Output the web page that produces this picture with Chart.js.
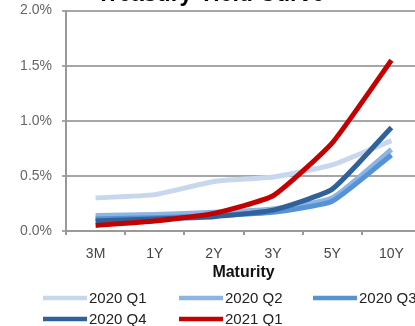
<!DOCTYPE html>
<html>
<head>
<meta charset="utf-8">
<script src="https://cdn.jsdelivr.net/npm/chart.js@4/dist/chart.umd.min.js"></script>
<style>
  html, body { margin: 0; padding: 0; background: #fff; overflow: hidden; width: 415px; height: 326px; }
  #wrap { position: absolute; left: 0; top: -28px; width: 425px; height: 354px; }
</style>
</head>
<body>
<div id="wrap"><canvas id="c" width="425" height="354"></canvas></div>
<script>
// Treasury yields (%) by maturity, quarterly snapshots
const maturities = ['3M', '1Y', '2Y', '3Y', '5Y', '10Y'];
const seriesNames = ['2020 Q1', '2020 Q2', '2020 Q3', '2020 Q4', '2021 Q1'];
const y2020Q1 = [0.30, 0.33, 0.45, 0.49, 0.60, 0.82];
const y2020Q2 = [0.14, 0.15, 0.17, 0.20, 0.30, 0.74];
const y2020Q3 = [0.11, 0.12, 0.14, 0.17, 0.27, 0.69];
const y2020Q4 = [0.09, 0.11, 0.13, 0.19, 0.38, 0.94];
const y2021Q1 = [0.05, 0.09, 0.16, 0.32, 0.80, 1.55];
const yTicks = [0, 0.5, 1.0, 1.5, 2.0];

const seriesValues = [y2020Q1, y2020Q2, y2020Q3, y2020Q4, y2021Q1];
const seriesColors = ['#c6d7ee', '#8db4e2', '#5592d6', '#30619a', '#c40000'];

const FONT = '"Liberation Sans", Arial, sans-serif';

// Legend laid out as a two-row grid under the axis title
const gridLegend = {
  id: 'gridLegend',
  afterDraw(chart) {
    const ctx = chart.ctx;
    const cols = [43, 179, 313];
    const base = chart.chartArea.bottom;
    ctx.save();
    chart.data.datasets.forEach((ds, i) => {
      const col = i % 3, row = Math.floor(i / 3);
      const x = cols[col];
      const y = base + 67 + row * 21;
      ctx.strokeStyle = ds.borderColor;
      ctx.lineWidth = 4.5;
      ctx.lineCap = 'butt';
      ctx.beginPath();
      ctx.moveTo(x, y);
      ctx.lineTo(x + 44, y);
      ctx.stroke();
      ctx.fillStyle = '#222';
      ctx.font = '15px ' + FONT;
      ctx.textAlign = 'left';
      ctx.textBaseline = 'middle';
      ctx.fillText(ds.label, x + 46, y + 1);
    });
    ctx.restore();
  }
};

new Chart(document.getElementById('c'), {
  type: 'line',
  data: {
    labels: maturities,
    datasets: seriesNames.map((name, i) => ({
      label: name,
      data: seriesValues[i],
      borderColor: seriesColors[i],
      backgroundColor: seriesColors[i],
      borderWidth: 5,
      pointRadius: 0,
      tension: 0.15,
      order: seriesNames.length - i
    }))
  },
  options: {
    responsive: false,
    animation: false,
    devicePixelRatio: 1,
    layout: { padding: { left: 0, right: 4, top: 0, bottom: 44 } },
    plugins: {
      legend: { display: false },
      tooltip: { enabled: false },
      title: {
        display: true,
        text: 'Treasury Yield Curve',
        color: '#000',
        font: { family: FONT, size: 23, weight: 'bold' },
        padding: { top: 9, bottom: 2 }
      }
    },
    scales: {
      x: {
        offset: true,
        grid: { display: true, drawOnChartArea: false, drawTicks: true, tickLength: 4, color: '#999', lineWidth: 2, offset: true },
        border: { display: true, color: '#999', width: 2 },
        ticks: { color: '#444', font: { family: FONT, size: 14 }, padding: 11 },
        title: { display: true, text: 'Maturity', color: '#111', font: { family: FONT, size: 16, weight: 'bold' }, padding: { top: -11, bottom: 0 } }
      },
      y: {
        min: 0,
        max: 2,
        afterFit(scale) { scale.width = 66; },
        afterBuildTicks(scale) { scale.ticks = yTicks.map(v => ({ value: v })); },
        grid: { color: '#a6a6a6', lineWidth: 2, tickLength: 4 },
        border: { display: true, color: '#999', width: 2 },
        ticks: {
          color: '#666',
          font: { family: FONT, size: 14 },
          padding: 10,
          callback: v => Number(v).toFixed(1) + '%'
        }
      }
    }
  },
  plugins: [gridLegend]
});
</script>
</body>
</html>
